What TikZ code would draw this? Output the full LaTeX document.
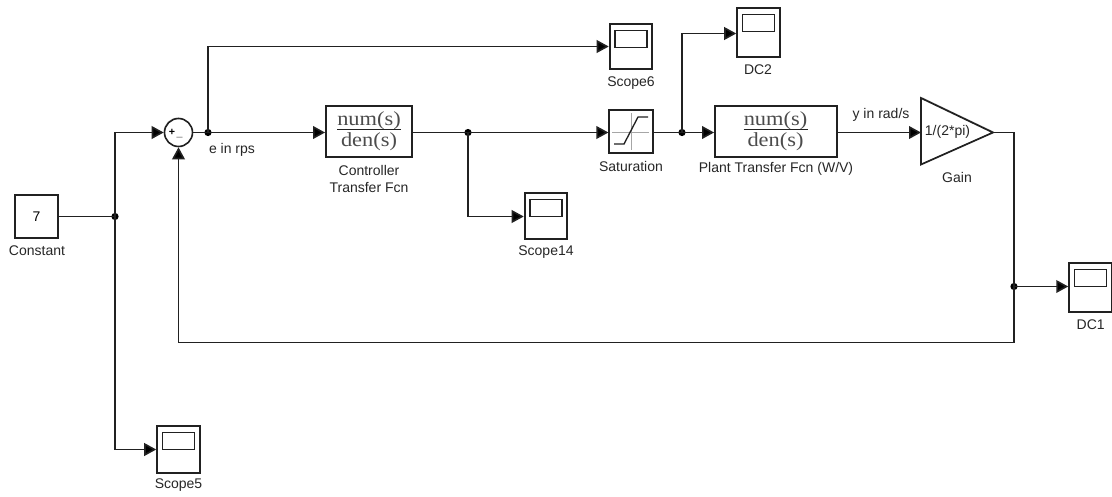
\documentclass[tikz,border=0pt]{standalone}
\usepackage{fontspec}
\usepackage{graphicx}
\setmainfont{Liberation Sans}
\newfontfamily\fracfont{Liberation Serif}
\usetikzlibrary{arrows.meta,shapes.geometric,shadows}
\definecolor{ln}{gray}{0.13}
\tikzset{
  x=0.75pt,y=-0.75pt,
  wire/.style={draw=ln,line width=1.2pt},
  arrowed/.style={wire,-{Triangle[length=9pt,width=9.5pt,fill=black]}},
  softshadow/.style={drop shadow={shadow xshift=-0.7pt,shadow yshift=0.7pt,opacity=.3,fill=gray}},
  blockbox/.style={draw=ln,line width=1.4pt,fill=white,rectangle,inner sep=0pt,softshadow},
  scopebox/.style={blockbox,minimum width=32pt,minimum height=34pt},
  junction/.style={circle,fill=black,inner sep=0pt,minimum size=5.4pt},
  lab/.style={font=\fontsize{10.5pt}{12.75pt}\selectfont,align=center,inner sep=0pt,text=black!85},
  fcn/.style={font=\fracfont\fontsize{15pt}{15pt}\selectfont,inner sep=0pt,text=black!70},
}
\begin{document}
\begin{tikzpicture}
\useasboundingbox (0,0) rectangle (1112,496);
% blocks
\node[blockbox,minimum width=32.2pt,minimum height=31.8pt] (const) at (36.5,216.5) {\fontsize{10.5pt}{12pt}\selectfont 7};
\node[lab] (constlab) at (37,250.5) {Constant};
\node[circle,draw=ln,line width=1.2pt,fill=white,minimum size=21pt,inner sep=0pt,softshadow] (sum) at (178.5,132.5) {};
\node[font=\fontsize{8pt}{8pt}\selectfont\bfseries,inner sep=0pt] (plus) at (172,132.5) {+};
\node[font=\fontsize{8pt}{8pt}\selectfont\bfseries,inner sep=0pt] (minus) at (179.5,137) {\_};
\node[lab] (elab) at (232,150) {e in rps};
\node[blockbox,minimum width=64.5pt,minimum height=38.5pt] (ctrl) at (369,131.5) {};
\node[fcn] (ctrlnum) at (369,120.5) {\scalebox{1.12}[1]{num(s)}};
\node[fcn] (ctrlden) at (369,142) {\scalebox{1.12}[1]{den(s)}};
\draw[draw=ln,line width=0.9pt] (ctrlnum.south west) -- (ctrlnum.south east);
\node[lab] (ctrllab) at (369,178.5) {Controller\\Transfer Fcn};
\node[blockbox,minimum width=32.5pt,minimum height=32.5pt] (sat) at (631,131.5) {};
\draw[gray!70,line width=0.5pt] (612,132) -- (649,132) (631.7,113) -- (631.7,150);
\draw[draw=ln,line width=1pt] (614,144) -- (624,144) -- (638,117) -- (648,117);
\node[lab] (satlab) at (631,166) {Saturation};
\node[blockbox,minimum width=91.5pt,minimum height=38.5pt] (plant) at (776,131.5) {};
\node[fcn] (plantnum) at (775.5,120.5) {\scalebox{1.12}[1]{num(s)}};
\node[fcn] (plantden) at (775.5,142) {\scalebox{1.12}[1]{den(s)}};
\draw[draw=ln,line width=0.9pt] (plantnum.south west) -- (plantnum.south east);
\node[lab] (plantlab) at (776,169) {Plant Transfer Fcn (W/V)};
\node[lab] (ylab) at (881,115) {y in rad/s};
\coordinate (gaintop) at (921,98);
\coordinate (gainbot) at (921,164.5);
\coordinate (gaintip) at (993,132.5);
\coordinate (gainin) at (921,132.5);
\draw[draw=ln,line width=1.3pt,fill=white,line join=miter,
      drop shadow={shadow xshift=0.7pt,shadow yshift=0.7pt,opacity=.3,fill=gray}] (gaintop) -- (gaintip) -- (gainbot) -- cycle;
\node[lab] (gaintxt) at (947.5,132) {1/(2*pi)};
\node[lab] (gainlab) at (957,177) {Gain};
% scopes
\foreach \nm/\cx/\cy/\h/\tx/\ty/\lb in {
  sco6/631/46.5/33.75/631/83/Scope6,
  dcb/758.5/32.5/36.75/758/70/DC2,
  sco14/546/216/34.5/546/252/Scope14,
  dca/1090.5/287.5/36.75/1090.7/325/DC1,
  sco5/178.5/449.5/35.25/178.5/485/Scope5}{
  \node[scopebox,minimum height=\h pt] (\nm) at (\cx,\cy) {};
  \draw[draw=ln,line width=0.85pt] ([xshift=-12pt,yshift=-5.5pt]\nm.north) rectangle ([xshift=12pt,yshift=-18.5pt]\nm.north);
  \node[lab] (\nm lab) at (\tx,\ty) {\lb};
}
% junctions
\node[junction] (j1) at (115,216.5) {};
\node[junction] (j2) at (208,132.5) {};
\node[junction] (j3) at (468,132.5) {};
\node[junction] (j4) at (682,132.5) {};
\node[junction] (j5) at (1014,286.5) {};
\coordinate (c6) at (sco6.west |- 0,46.5);
\coordinate (cd2) at (dcb.west |- 0,33.5);
\coordinate (cor) at (1014,132.5);
\coordinate (fbr) at (1014,342.5);
\coordinate (fbl) at (178.5,342.5);
\coordinate (sumleft) at (115,132.5);
\coordinate (s5corner) at (115,449.5);
% wires
\draw[wire] (const.east) -- (j1.center);
\draw[arrowed] (j1.center) -- (sumleft) -- (sum.west);
\draw[arrowed] (j1.center) -- (s5corner) -- (sco5.west |- s5corner);
\draw[wire] (sum.east) -- (j2.center);
\draw[arrowed] (j2.center) -- (ctrl.west |- j2);
\draw[arrowed] (j2.center) |- (c6);
\draw[wire] (ctrl.east |- j3) -- (j3.center);
\draw[arrowed] (j3.center) -- (sat.west |- j3);
\draw[arrowed] (j3.center) |- (sco14.west |- 0,216.5);
\draw[wire] (sat.east |- j4) -- (j4.center);
\draw[arrowed] (j4.center) -- (plant.west |- j4);
\draw[arrowed] (j4.center) |- (cd2);
\draw[arrowed] (plant.east |- gainin) -- (gainin);
\draw[wire] (gaintip) -- (cor) -- (j5.center);
\draw[arrowed] (j5.center) -- (dca.west |- j5);
\draw[arrowed] (j5.center) -- (fbr) -- (fbl) -- (sum.south);
\end{tikzpicture}
\end{document}
